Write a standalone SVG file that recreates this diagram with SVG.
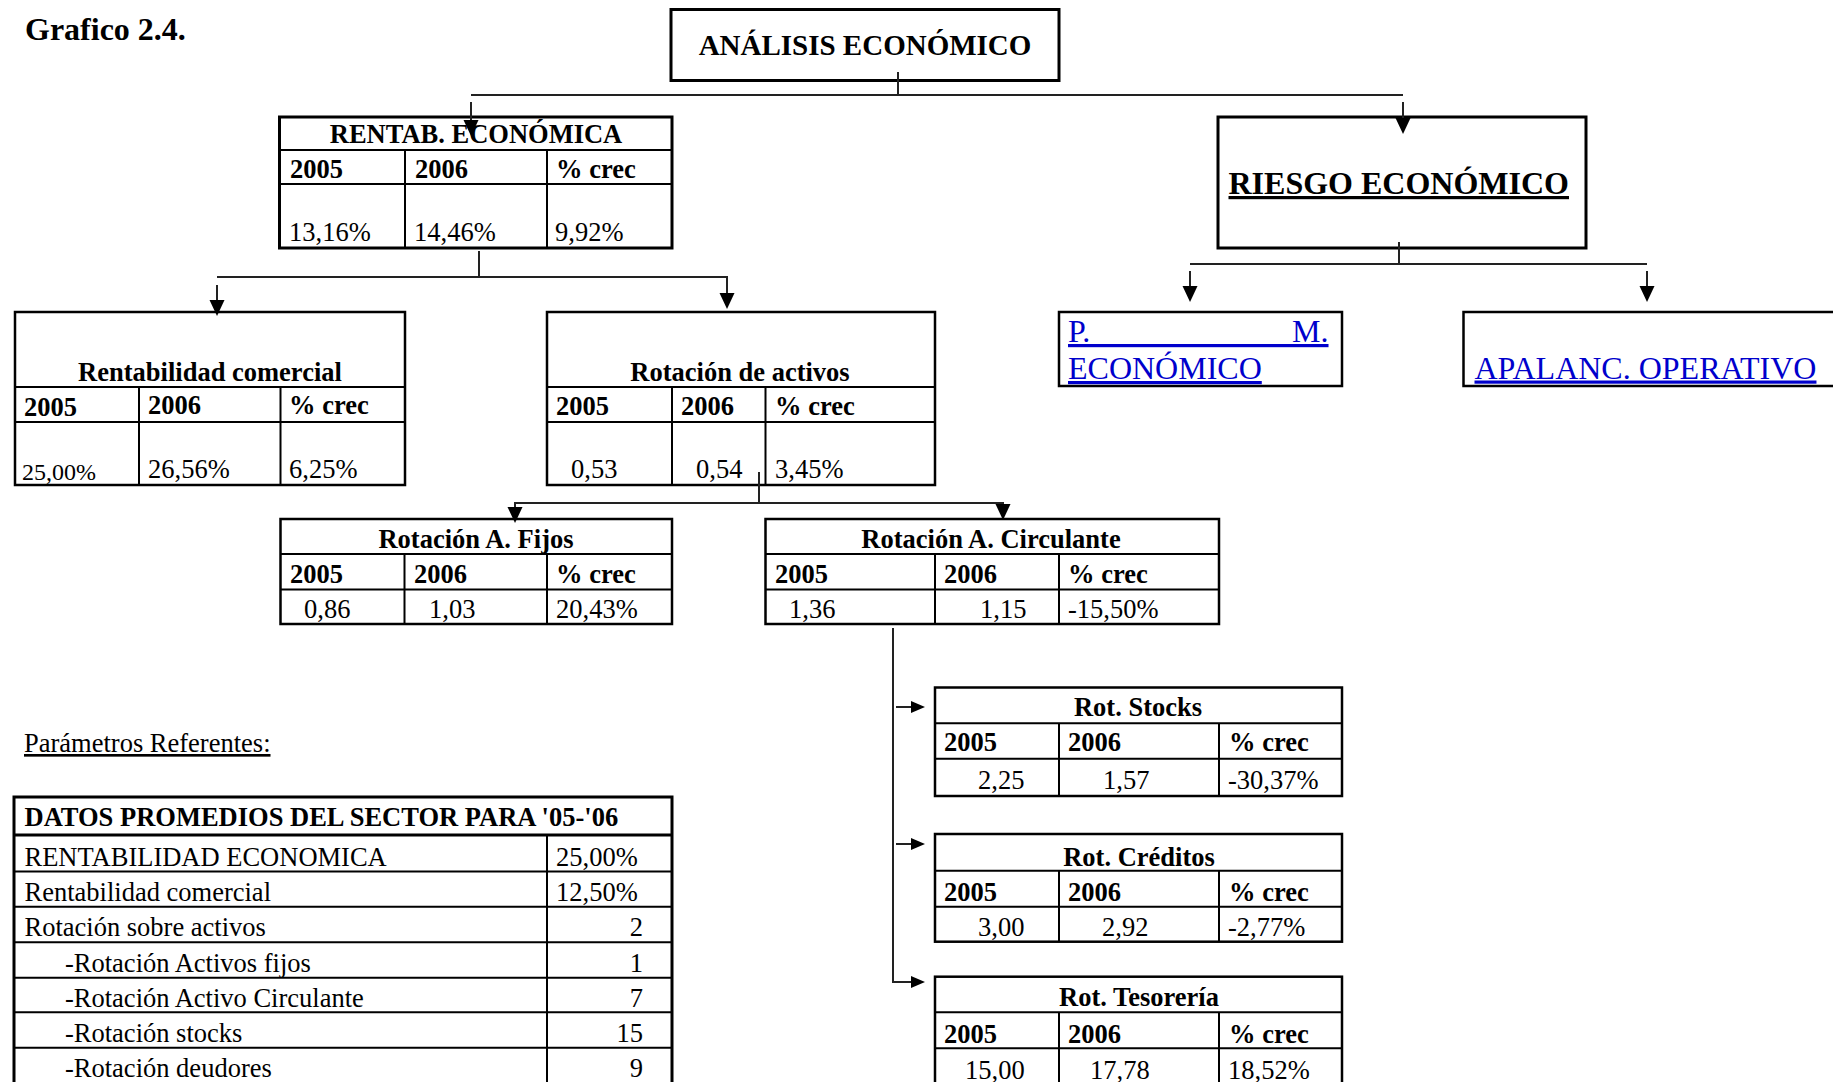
<svg xmlns="http://www.w3.org/2000/svg" width="1833" height="1082" viewBox="0 0 1833 1082">
<style>
  text { font-family: "Liberation Serif", "Times New Roman", serif; font-size: 26.5px; fill: #000; }
  .b { font-weight: bold; }
  .c { text-anchor: middle; }
  .e { text-anchor: end; }
  .u { text-decoration: underline; }
  .lnk { fill: #0000cc; font-size: 32px; text-decoration: underline; }
  .box { fill: #fff; stroke: #000; stroke-width: 2.5; }
  .thick { stroke-width: 3; }
  .grid { stroke: #000; stroke-width: 2; fill: none; }
  .cn { fill: none; stroke: #222; stroke-width: 2; }
  .ar { marker-end: url(#ah); }
  .ars { marker-end: url(#as); }
</style>
<defs>
  <marker id="ah" viewBox="0 0 16 16" refX="12" refY="8" markerWidth="16" markerHeight="16" markerUnits="userSpaceOnUse" orient="auto">
    <path d="M0,0.5 L16,8 L0,15.5 z" fill="#000"/>
  </marker>
  <marker id="as" viewBox="0 0 14 12" refX="10" refY="6" markerWidth="14" markerHeight="12" markerUnits="userSpaceOnUse" orient="auto">
    <path d="M0,0 L14,6 L0,12 z" fill="#000"/>
  </marker>
</defs>
<rect width="1833" height="1082" fill="#fff"/>

<text id="title" class="b" x="25" y="40" style="font-size:32px">Grafico 2.4.</text>

<g id="n-analisis">
  <rect class="box thick" x="671" y="9.5" width="388" height="71"/>
  <text class="b c" x="865" y="55" style="font-size:29px">ANÁLISIS ECONÓMICO</text>
</g>

<g id="n-rentab">
  <rect class="box thick" x="279.5" y="117" width="392.5" height="131"/>
  <path class="grid" d="M279.5,150 H672 M279.5,184 H672 M405,150 V248 M547,150 V248"/>
  <text class="b c" x="476" y="143">RENTAB. ECONÓMICA</text>
  <text class="b" x="290" y="178">2005</text>
  <text class="b" x="415" y="178">2006</text>
  <text class="b" x="556" y="178">% crec</text>
  <text x="289" y="241">13,16%</text>
  <text x="414" y="241">14,46%</text>
  <text x="555" y="241">9,92%</text>
</g>

<g id="n-riesgo">
  <rect class="box thick" x="1218" y="117" width="368" height="131"/>
  <text class="b u" x="1228.5" y="194" style="font-size:32px">RIESGO ECONÓMICO</text>
</g>

<g id="n-pm">
  <rect class="box" x="1059" y="312" width="283" height="74"/>
  <text class="lnk" x="1068" y="342" word-spacing="193.8">P. M.</text>
  <text class="lnk" x="1068" y="379">ECONÓMICO</text>
</g>

<g id="n-apalanc">
  <rect class="box" x="1463.5" y="312" width="385" height="74"/>
  <text class="lnk" x="1474.5" y="378.5">APALANC. OPERATIVO</text>
</g>

<g id="n-rcomercial">
  <rect class="box" x="15" y="312" width="390" height="173"/>
  <path class="grid" d="M15,387 H405 M15,422 H405 M139,387 V485 M280.5,387 V485"/>
  <text class="b c" x="210" y="381">Rentabilidad comercial</text>
  <text class="b" x="24" y="416">2005</text>
  <text class="b" x="148" y="414">2006</text>
  <text class="b" x="289" y="414">% crec</text>
  <text x="22" y="480" style="font-size:24px">25,00%</text>
  <text x="148" y="478">26,56%</text>
  <text x="289" y="478">6,25%</text>
</g>

<g id="n-ractivos">
  <rect class="box" x="547" y="312" width="388" height="173"/>
  <path class="grid" d="M547,387 H935 M547,422 H935 M672,387 V485 M765.5,387 V485"/>
  <text class="b c" x="740" y="381">Rotación de activos</text>
  <text class="b" x="556" y="415">2005</text>
  <text class="b" x="681" y="415">2006</text>
  <text class="b" x="775" y="415">% crec</text>
  <text x="571" y="478">0,53</text>
  <text x="696" y="478">0,54</text>
  <text x="775" y="478">3,45%</text>
</g>

<g id="n-rfijos">
  <rect class="box" x="280.5" y="519" width="391.5" height="105"/>
  <path class="grid" d="M280.5,554 H672 M280.5,589.5 H672 M404.5,554 V624 M547,554 V624"/>
  <text class="b c" x="476" y="548">Rotación A. Fijos</text>
  <text class="b" x="290" y="583">2005</text>
  <text class="b" x="414" y="583">2006</text>
  <text class="b" x="556" y="583">% crec</text>
  <text x="304" y="618">0,86</text>
  <text x="429" y="618">1,03</text>
  <text x="556" y="618">20,43%</text>
</g>

<g id="n-rcirc">
  <rect class="box" x="765.5" y="519" width="453.5" height="105"/>
  <path class="grid" d="M765.5,554 H1219 M765.5,589.5 H1219 M935,554 V624 M1059,554 V624"/>
  <text class="b c" x="991" y="548">Rotación A. Circulante</text>
  <text class="b" x="775" y="583">2005</text>
  <text class="b" x="944" y="583">2006</text>
  <text class="b" x="1068" y="583">% crec</text>
  <text x="789" y="618">1,36</text>
  <text x="980" y="618">1,15</text>
  <text x="1068" y="618">-15,50%</text>
</g>

<g id="n-rstocks">
  <rect class="box" x="935" y="687.5" width="407" height="108.5"/>
  <path class="grid" d="M935,723.3 H1342 M935,758.7 H1342 M1059,723.3 V796 M1219,723.3 V796"/>
  <text class="b c" x="1138" y="716">Rot. Stocks</text>
  <text class="b" x="944" y="751">2005</text>
  <text class="b" x="1068" y="751">2006</text>
  <text class="b" x="1229" y="751">% crec</text>
  <text x="978" y="789">2,25</text>
  <text x="1103" y="789">1,57</text>
  <text x="1228" y="789">-30,37%</text>
</g>

<g id="n-rcreditos">
  <rect class="box" x="935" y="834" width="407" height="107.7"/>
  <path class="grid" d="M935,870.7 H1342 M935,906.7 H1342 M1059,870.7 V941.7 M1219,870.7 V941.7"/>
  <text class="b c" x="1139" y="866">Rot. Créditos</text>
  <text class="b" x="944" y="901">2005</text>
  <text class="b" x="1068" y="901">2006</text>
  <text class="b" x="1229" y="901">% crec</text>
  <text x="978" y="936">3,00</text>
  <text x="1102" y="936">2,92</text>
  <text x="1228" y="936">-2,77%</text>
</g>

<g id="n-rtesoreria">
  <rect class="box" x="935" y="976.7" width="407" height="130"/>
  <path class="grid" d="M935,1012.3 H1342 M935,1048.3 H1342 M1059,1012.3 V1090 M1219,1012.3 V1090"/>
  <text class="b c" x="1139" y="1006">Rot. Tesorería</text>
  <text class="b" x="944" y="1043">2005</text>
  <text class="b" x="1068" y="1043">2006</text>
  <text class="b" x="1229" y="1043">% crec</text>
  <text x="965" y="1079">15,00</text>
  <text x="1090" y="1079">17,78</text>
  <text x="1228" y="1079">18,52%</text>
</g>

<text id="label-param" class="u" x="24" y="752">Parámetros Referentes:</text>

<g id="n-datos">
  <rect class="box thick" x="14" y="797" width="658" height="300"/>
  <path class="grid" d="M14,835 H672" style="stroke-width:3"/>
  <path class="grid" d="M14,871.5 H672 M14,906.7 H672 M14,942.3 H672 M14,977.7 H672 M14,1012.3 H672 M14,1047.7 H672 M547,835 V1090"/>
  <text class="b" x="24.5" y="826">DATOS PROMEDIOS DEL SECTOR PARA '05-'06</text>
  <text x="24.5" y="866">RENTABILIDAD ECONOMICA</text>
  <text x="556" y="866">25,00%</text>
  <text x="24.5" y="901">Rentabilidad comercial</text>
  <text x="556" y="901">12,50%</text>
  <text x="24.5" y="936">Rotación sobre activos</text>
  <text class="e" x="643" y="936">2</text>
  <text x="65" y="971.5">-Rotación Activos fijos</text>
  <text class="e" x="643" y="971.5">1</text>
  <text x="65" y="1006.5">-Rotación Activo Circulante</text>
  <text class="e" x="643" y="1006.5">7</text>
  <text x="65" y="1041.5">-Rotación stocks</text>
  <text class="e" x="643" y="1041.5">15</text>
  <text x="65" y="1077">-Rotación deudores</text>
  <text class="e" x="643" y="1077">9</text>
</g>

<g id="connectors">
  <!-- ANÁLISIS ECONÓMICO to its two branches -->
  <path class="cn" d="M898,72 V95 M471,95 H1403"/>
  <path class="cn ar" d="M471,102 V132"/>
  <path class="cn ar" d="M1403,102 V130"/>
  <!-- RIESGO ECONÓMICO branches -->
  <path class="cn" d="M1399,242 V264 M1190,264 H1647"/>
  <path class="cn ar" d="M1190,271 V298"/>
  <path class="cn ar" d="M1647,271 V298"/>
  <!-- RENTAB. ECONÓMICA branches -->
  <path class="cn" d="M479,251 V277"/>
  <path class="cn ar" d="M479,277 H727 V305"/>
  <path class="cn" d="M479,277 H217"/>
  <path class="cn ar" d="M217,285 V312"/>
  <!-- Rotación de activos branches -->
  <path class="cn" d="M759,472 V503"/>
  <path class="cn ar" d="M759,503 H515 V519"/>
  <path class="cn ar" d="M759,503 H1003 V516"/>
  <!-- Rotación A. Circulante breakdown -->
  <path class="cn ars" d="M893,628 V982 H921"/>
  <path class="cn ars" d="M896,707 H921"/>
  <path class="cn ars" d="M896,844 H921"/>
</g>
</svg>
